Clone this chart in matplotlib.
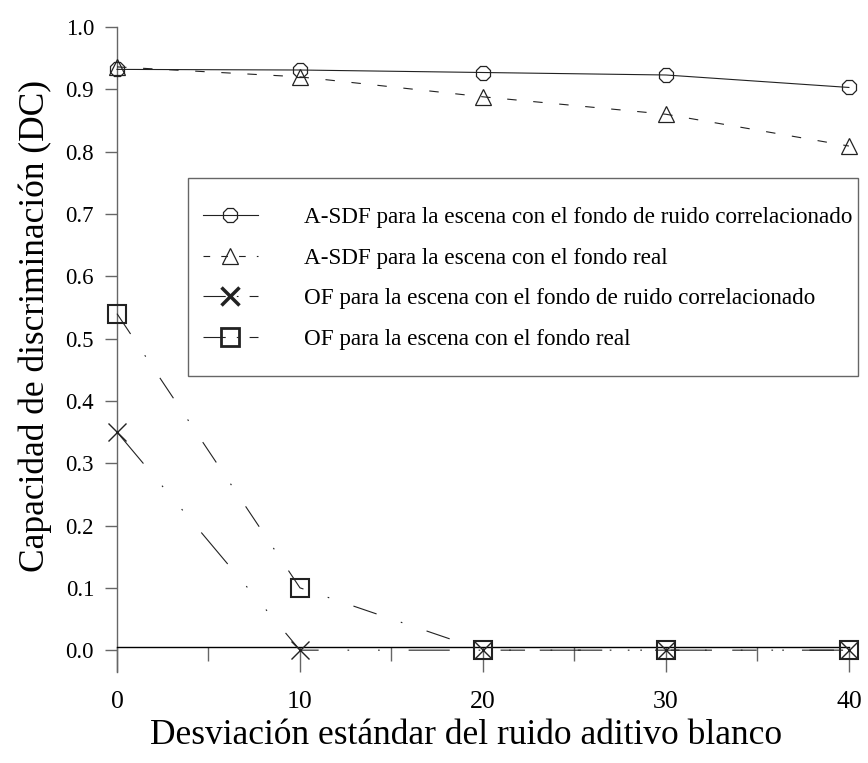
import matplotlib
matplotlib.use("Agg")
import matplotlib.pyplot as plt
from matplotlib.lines import Line2D
from matplotlib.patches import Rectangle
from matplotlib.ticker import MultipleLocator

# noise standard deviation (x) and discrimination capability per filter/scene
sigma = [0, 10, 20, 30, 40]
asdf_corr = [0.932, 0.931, 0.927, 0.923, 0.903]
asdf_real = [0.936, 0.920, 0.888, 0.860, 0.809]
of_corr = [0.35, 0.0, 0.0, 0.0, 0.0]
of_real = [0.54, 0.10, 0.0, 0.0, 0.0]

labels = [
    "A-SDF para la escena con el fondo de ruido correlacionado",
    "A-SDF para la escena con el fondo real",
    "OF para la escena con el fondo de ruido correlacionado",
    "OF para la escena con el fondo real",
]

plt.rcParams["font.family"] = ["Liberation Serif", "DejaVu Serif"]
ink = "#222222"
axis_gray = "#666666"

fig = plt.figure(figsize=(8.68, 7.63), dpi=100)
ax = fig.add_axes([0.1348, 0.1193, 0.978 - 0.1348, 0.9646 - 0.1193])

# line styles: solid, dashed, dash-dot-dot, dash-dot
styles = [
    dict(ls="-", marker="8", ms=11.5, mew=0.9),
    dict(ls=(0, (8.5, 15)), marker="^", ms=12, mew=0.9),
    dict(ls=(0, (37, 26, 1.5, 26, 1.5, 26)), marker="x", ms=13, mew=1.0),
    dict(ls=(0, (22, 23, 1.5, 23)), marker="s", ms=13, mew=1.5),
]
series = [asdf_corr, asdf_real, of_corr, of_real]

for vals, st in zip(series, styles):
    ax.plot(sigma, vals, color=ink, lw=0.8, mfc="none", mec=ink,
            clip_on=False, zorder=3, **st)

ax.set_xlim(0, 40)
ax.set_ylim(-0.035, 1.0)

# the x axis sits just above zero, the y axis runs a bit below it
ax.spines["top"].set_visible(False)
ax.spines["right"].set_visible(False)
ax.spines["bottom"].set_position(("data", 0.005))
ax.spines["bottom"].set_color("black")
ax.spines["bottom"].set_linewidth(1.0)
ax.spines["left"].set_color(axis_gray)
ax.spines["left"].set_linewidth(1.0)

ax.xaxis.set_major_locator(MultipleLocator(10))
ax.xaxis.set_minor_locator(MultipleLocator(5))
ax.set_yticks([i / 10 for i in range(11)])
ax.set_yticklabels([f"{i / 10:.1f}" for i in range(11)])

ax.tick_params(axis="x", which="major", direction="out", length=18,
               width=1.0, color=axis_gray, labelsize=18.5, pad=14)
ax.tick_params(axis="x", which="minor", direction="out", length=10,
               width=1.0, color=axis_gray)
ax.tick_params(axis="y", which="major", direction="out", length=8.5,
               width=1.0, color=axis_gray, labelsize=16.5, pad=8)

ax.set_xlabel("Desviación estándar del ruido aditivo blanco", fontsize=25.5,
              labelpad=4)
ax.set_ylabel("Capacidad de discriminación (DC)", fontsize=25.5, labelpad=10)
ax.xaxis.label.set_x(0.477)
ax.yaxis.label.set_y(0.537)

# legend with bolder markers for the OF entries
handles = [
    Line2D([], [], color=ink, lw=0.8, ls="-", marker="8", ms=11.5, mew=0.9,
           mfc="none", mec=ink),
    Line2D([], [], color=ink, lw=0.8, ls=(0, (6, 10)), marker="^", ms=12,
           mew=0.9, mfc="none", mec=ink),
    Line2D([], [], color=ink, lw=0.8, ls=(0, (20, 10, 1.5, 10)), marker="x",
           ms=13, mew=2.5, mec=ink),
    Line2D([], [], color=ink, lw=0.8, ls=(0, (20, 10, 1.5, 10)), marker="s",
           ms=13, mew=2.0, mfc="none", mec=ink),
]
leg = fig.legend(handles, labels, loc="center left",
                 bbox_to_anchor=(203 / 868, 1 - 278.5 / 763), fontsize=16.7,
                 frameon=False, handlelength=2.37, handletextpad=2.0,
                 labelspacing=0.83, borderpad=0, borderaxespad=0)

# legend frame drawn separately: tall padding above/below, tight at the sides
fig.add_artist(Rectangle((188 / 868, 1 - 376 / 763), 670 / 868, 198 / 763,
                         transform=fig.transFigure, fill=False,
                         edgecolor=axis_gray, lw=1.0, zorder=2))

fig.savefig("out.png", dpi=100)
